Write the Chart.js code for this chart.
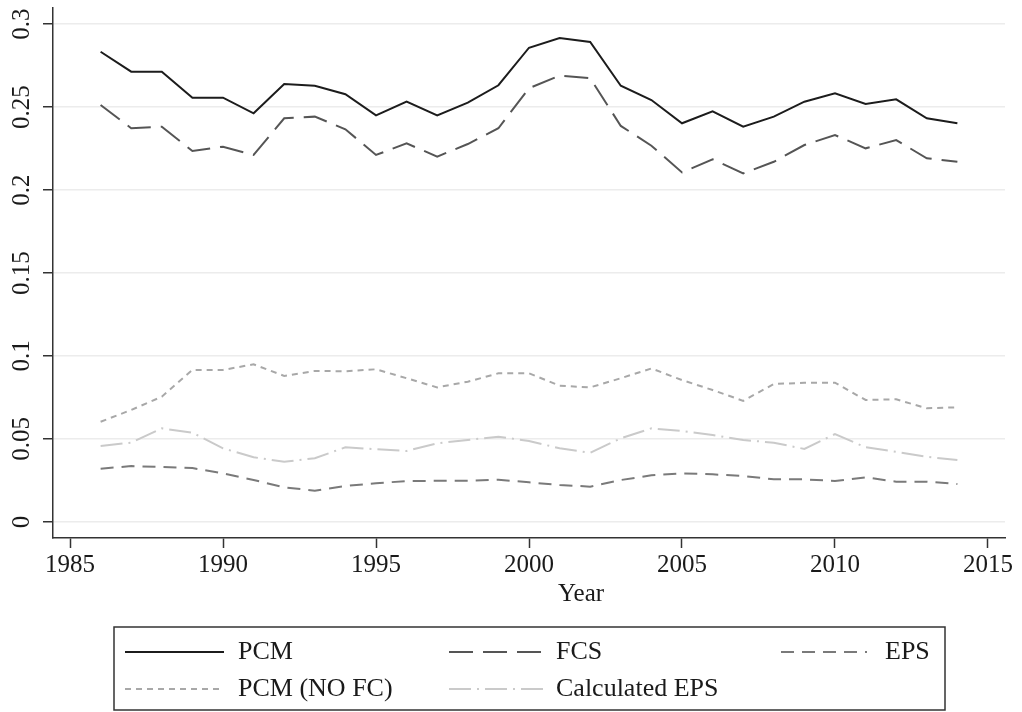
<!DOCTYPE html>
<html><head><meta charset="utf-8">
<script src="https://cdn.jsdelivr.net/npm/chart.js@4.4.0/dist/chart.umd.min.js"></script>
<style>html,body{margin:0;padding:0;background:#fff;}#wrap{position:relative;width:1022px;height:712px;}</style>
</head><body><div id="wrap"><canvas id="c" width="1022" height="712"></canvas></div>
<script>
const years = [1986,1987,1988,1989,1990,1991,1992,1993,1994,1995,1996,1997,1998,1999,2000,2001,2002,2003,2004,2005,2006,2007,2008,2009,2010,2011,2012,2013,2014];
const pcm = [0.2833,0.2713,0.2713,0.2556,0.2556,0.2462,0.2639,0.2628,0.2577,0.2450,0.2532,0.2450,0.2526,0.2631,0.2857,0.2916,0.2892,0.2628,0.2542,0.2402,0.2474,0.2381,0.2442,0.2532,0.2582,0.2518,0.2546,0.2432,0.2402];
const fcs = [0.2512,0.2372,0.2381,0.2235,0.2261,0.2211,0.2432,0.2442,0.2366,0.2211,0.2281,0.2201,0.2277,0.2372,0.2613,0.2689,0.2673,0.2386,0.2267,0.2106,0.2185,0.2100,0.2170,0.2271,0.2331,0.2251,0.2301,0.2191,0.2170];
const eps = [0.0321,0.0337,0.0331,0.0325,0.0293,0.0253,0.0209,0.0189,0.0217,0.0233,0.0247,0.0248,0.0248,0.0255,0.0239,0.0223,0.0213,0.0253,0.0281,0.0293,0.0287,0.0277,0.0257,0.0257,0.0247,0.0269,0.0243,0.0243,0.0229];
const pcmNoFc = [0.0604,0.0675,0.0755,0.0916,0.0916,0.0950,0.0880,0.0910,0.0908,0.0920,0.0866,0.0811,0.0845,0.0896,0.0896,0.0821,0.0811,0.0866,0.0925,0.0855,0.0795,0.0730,0.0831,0.0839,0.0839,0.0735,0.0739,0.0685,0.0691];
const calcEps = [0.0458,0.0478,0.0564,0.0538,0.0444,0.0390,0.0363,0.0384,0.0450,0.0438,0.0428,0.0474,0.0494,0.0514,0.0488,0.0444,0.0417,0.0504,0.0564,0.0548,0.0524,0.0494,0.0478,0.0440,0.0530,0.0450,0.0423,0.0393,0.0373];
const xTicks = [1985,1990,1995,2000,2005,2010,2015];
const yTicks = [0,0.05,0.1,0.15,0.2,0.25,0.3];
const yTickLabels = ['0','0.05','0.1','0.15','0.2','0.25','0.3'];
const seriesNames = ['PCM','FCS','EPS','PCM (NO FC)','Calculated EPS'];
const xTitle = 'Year';

const FONT = 'Liberation Serif';
const styles = [
  {color:'#1c1c1c', dash:[]},
  {color:'#555555', dash:[24,10]},
  {color:'#7a7a7a', dash:[13,8]},
  {color:'#a8a8a8', dash:[6,5]},
  {color:'#cacaca', dash:[22,6,2,6]}
];
const seriesData = [pcm, fcs, eps, pcmNoFc, calcEps];
const datasets = seriesData.map((arr,i)=>({
  label: seriesNames[i],
  data: arr.map((v,j)=>({x:years[j], y:v})),
  borderColor: styles[i].color,
  borderDash: styles[i].dash,
  borderWidth: 2,
  pointRadius: 0,
  tension: 0,
  fill: false
}));

const legendPlugin = {
  id:'customLegend',
  afterDraw(chart){
    const ctx = chart.ctx;
    const ca = chart.chartArea;
    const xs = chart.scales.x;
    ctx.save();
    ctx.font = '25px "'+FONT+'"';
    ctx.fillStyle = '#1a1a1a';
    ctx.textAlign = 'center';
    ctx.textBaseline = 'middle';
    ctx.fillText(xTitle, xs.getPixelForValue(2001.7), ca.bottom + 56);
    const L = 114, T = ca.bottom + 89, R = 945, B = 710;
    ctx.strokeStyle = '#333';
    ctx.lineWidth = 1.5;
    ctx.strokeRect(L, T, R-L, B-T);
    const cols = [{x:125,w:99,t:238},{x:449,w:95,t:556},{x:781,w:86,t:885}];
    const rows = [T+25, T+62];
    ctx.font = '26px "'+FONT+'"';
    ctx.textAlign = 'left';
    seriesNames.forEach((n,i)=>{
      const c = cols[i%3], r = rows[Math.floor(i/3)];
      ctx.beginPath();
      ctx.setLineDash(styles[i].dash);
      ctx.strokeStyle = styles[i].color;
      ctx.lineWidth = 2;
      ctx.moveTo(c.x, r); ctx.lineTo(c.x+c.w, r);
      ctx.stroke();
      ctx.setLineDash([]);
      ctx.fillStyle = '#1a1a1a';
      ctx.fillText(n, c.t, r);
    });
    ctx.restore();
  }
};

new Chart(document.getElementById('c'), {
  type:'line',
  data:{datasets},
  options:{
    responsive:false, animation:false, devicePixelRatio:1,
    layout:{padding:{top:8,right:17,left:0,bottom:0}},
    plugins:{legend:{display:false}, tooltip:{enabled:false}},
    scales:{
      x:{
        type:'linear', min:1984.444, max:2015.556,
        afterBuildTicks:s=>{s.ticks = xTicks.map(v=>({value:v}));},
        afterFit:s=>{s.height = 174; s.paddingLeft = 0; s.paddingRight = 0;},
        ticks:{font:{family:FONT,size:25}, color:'#1a1a1a', padding:2, autoSkip:false, maxRotation:0, callback:v=>String(v)},
        grid:{drawOnChartArea:false, tickLength:10, tickColor:'#333', tickWidth:1.5},
        border:{color:'#333', width:1.5}
      },
      y:{
        type:'linear', min:-0.00964, max:0.30964,
        afterBuildTicks:s=>{s.ticks = yTicks.map(v=>({value:v}));},
        afterFit:s=>{s.width = 53; s.paddingTop = 0; s.paddingBottom = 0;},
        ticks:{font:{family:FONT,size:25}, color:'#1a1a1a', minRotation:90, maxRotation:90, crossAlign:'center', padding:-1,
          callback:v=>{const k = yTicks.findIndex(t=>Math.abs(t-v)<1e-9); return k>=0?yTickLabels[k]:'';}},
        grid:{color:'#ececec', lineWidth:1.5, tickColor:'#333', tickLength:10, tickWidth:1.5},
        border:{color:'#333', width:1.5}
      }
    }
  },
  plugins:[legendPlugin]
});
</script></body></html>
